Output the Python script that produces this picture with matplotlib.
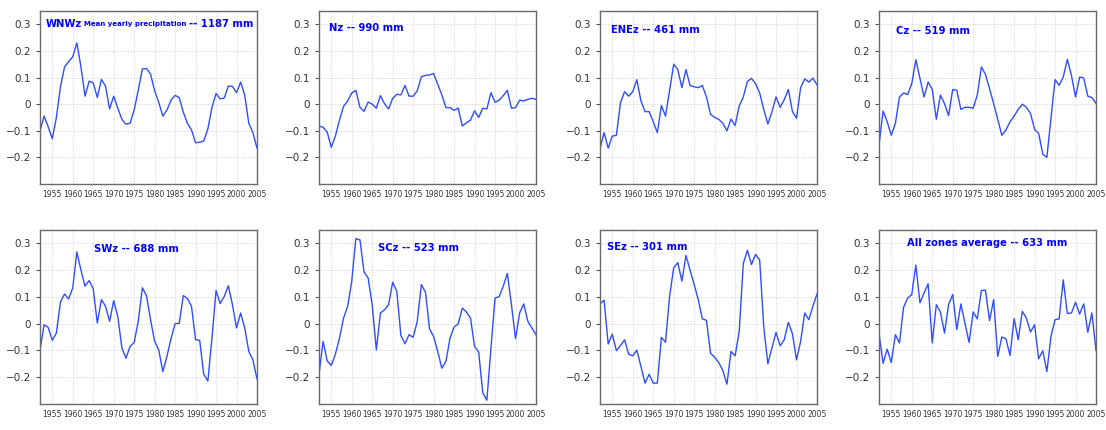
import numpy as np
import matplotlib
matplotlib.use("Agg")
import matplotlib.pyplot as plt

years = np.arange(1952, 2006)

wnwz = [-0.10, -0.045, -0.085, -0.13, -0.05, 0.065, 0.14, 0.16, 0.178, 0.23,
        0.14, 0.03, 0.086, 0.08, 0.025, 0.093, 0.068, -0.018, 0.03, -0.015,
        -0.057, -0.075, -0.072, -0.022, 0.052, 0.132, 0.134, 0.113, 0.05, 0.007,
        -0.045, -0.022, 0.015, 0.033, 0.025, -0.03, -0.072, -0.097, -0.145, -0.143,
        -0.138, -0.093, -0.012, 0.04, 0.02, 0.023, 0.068, 0.067, 0.043, 0.083,
        0.034, -0.072, -0.107, -0.165]
nz = [-0.082, -0.087, -0.105, -0.162, -0.12, -0.06, -0.008, 0.012, 0.042, 0.052,
      -0.012, -0.027, 0.008, 0.0, -0.015, 0.032, 0.002, -0.018, 0.022, 0.037,
      0.035, 0.07, 0.03, 0.03, 0.05, 0.103, 0.108, 0.11, 0.115, 0.075,
      0.035, -0.013, -0.013, -0.023, -0.015, -0.082, -0.07, -0.06, -0.025, -0.05,
      -0.015, -0.018, 0.043, 0.007, 0.015, 0.032, 0.052, -0.015, -0.013, 0.015,
      0.012, 0.018, 0.022, 0.018]
enez = [-0.167, -0.107, -0.165, -0.12, -0.117, 0.005, 0.047, 0.03, 0.047, 0.092,
        0.012, -0.028, -0.028, -0.066, -0.107, -0.005, -0.045, 0.052, 0.15, 0.13,
        0.062, 0.13, 0.07, 0.065, 0.062, 0.07, 0.027, -0.038, -0.05, -0.057,
        -0.072, -0.1, -0.056, -0.08, -0.007, 0.027, 0.085, 0.097, 0.077, 0.042,
        -0.02, -0.075, -0.028, 0.027, -0.012, 0.017, 0.055, -0.028, -0.053, 0.062,
        0.095, 0.083, 0.098, 0.072]
cz = [-0.153, -0.026, -0.066, -0.117, -0.072, 0.027, 0.042, 0.036, 0.077, 0.167,
      0.097, 0.027, 0.083, 0.056, -0.057, 0.034, 0.002, -0.043, 0.055, 0.052,
      -0.02, -0.012, -0.012, -0.015, 0.034, 0.14, 0.112, 0.058, 0.002, -0.057,
      -0.117, -0.097, -0.066, -0.045, -0.02, 0.0, -0.012, -0.035, -0.095, -0.11,
      -0.188, -0.2, -0.053, 0.092, 0.071, 0.102, 0.168, 0.108, 0.027, 0.102,
      0.098, 0.03, 0.025, 0.003]
swz = [-0.098, -0.004, -0.014, -0.062, -0.035, 0.081, 0.111, 0.092, 0.134, 0.268,
       0.2, 0.14, 0.161, 0.131, 0.002, 0.09, 0.065, 0.009, 0.086, 0.027,
       -0.091, -0.129, -0.085, -0.07, 0.009, 0.134, 0.105, 0.015, -0.066, -0.098,
       -0.179, -0.122, -0.056, 0.0, 0.001, 0.105, 0.094, 0.065, -0.06, -0.062,
       -0.189, -0.214, -0.054, 0.124, 0.075, 0.102, 0.142, 0.071, -0.016, 0.04,
       -0.016, -0.104, -0.135, -0.206]
scz = [-0.189, -0.066, -0.139, -0.156, -0.114, -0.054, 0.021, 0.065, 0.159, 0.318,
       0.313, 0.193, 0.171, 0.069, -0.098, 0.04, 0.052, 0.071, 0.155, 0.121,
       -0.044, -0.075, -0.041, -0.051, 0.009, 0.146, 0.118, -0.019, -0.048, -0.104,
       -0.166, -0.141, -0.054, -0.012, -0.001, 0.058, 0.044, 0.021, -0.085, -0.106,
       -0.258, -0.286, -0.091, 0.096, 0.101, 0.14, 0.188, 0.071, -0.056, 0.04,
       0.074, 0.009, -0.016, -0.041]
sez = [0.074, 0.088, -0.076, -0.039, -0.101, -0.082, -0.06, -0.114, -0.12, -0.099,
       -0.16, -0.222, -0.189, -0.222, -0.222, -0.051, -0.069, 0.102, 0.209, 0.228,
       0.159, 0.255, 0.2, 0.146, 0.09, 0.018, 0.0125, -0.11, -0.125, -0.145,
       -0.175, -0.226, -0.104, -0.12, -0.029, 0.225, 0.274, 0.221, 0.259, 0.238,
       -0.0125, -0.15, -0.09, -0.0325, -0.0825, -0.06, 0.005, -0.0375, -0.135, -0.066,
       0.04, 0.015, 0.065, 0.111]
allz = [-0.037, -0.148, -0.095, -0.145, -0.041, -0.072, 0.061, 0.096, 0.109, 0.219,
        0.078, 0.115, 0.149, -0.072, 0.071, 0.044, -0.035, 0.071, 0.109, -0.022,
        0.074, 0.002, -0.07, 0.044, 0.018, 0.124, 0.125, 0.011, 0.09, -0.122,
        -0.05, -0.056, -0.119, 0.019, -0.06, 0.046, 0.021, -0.031, -0.004, -0.131,
        -0.101, -0.179, -0.048, 0.015, 0.018, 0.164, 0.038, 0.04, 0.08, 0.036,
        0.074, -0.032, 0.04, -0.1]

series = [wnwz, nz, enez, cz, swz, scz, sez, allz]
titles = ["WNWz", "Nz -- 990 mm", "ENEz -- 461 mm", "Cz -- 519 mm",
          "SWz -- 688 mm", "SCz -- 523 mm", "SEz -- 301 mm",
          "All zones average -- 633 mm"]
# title anchor (x in axes fraction, y in data units)
title_pos = [(0.026, 0.3), (0.045, 0.288), (0.05, 0.278), (0.08, 0.274),
             (0.25, 0.28), (0.27, 0.281), (0.034, 0.285), (0.127, 0.301)]

yticks = [-0.2, -0.1, 0, 0.1, 0.2, 0.3]
ytick_labels = ["\u22120.2", "\u22120.1", "0", "0.1", "0.2", "0.3"]
xticks = np.arange(1955, 2006, 5)

W, H = 1106, 430
fig = plt.figure(figsize=(W / 100, H / 100), dpi=100)

lefts = [40, 319, 600, 879]
rows = [(11, 184), (230, 404)]
line_color = "#2f4dff"
title_kw = dict(color="blue", fontsize=7.2, fontweight="heavy", va="center")

for i, vals in enumerate(series):
    r, c = divmod(i, 4)
    top, bot = rows[r]
    ax = fig.add_axes([lefts[c] / W, (H - bot) / H, 217 / W, (bot - top) / H])
    ax.plot(years, vals, color=line_color, lw=1.0)
    ax.set_xlim(1952, 2005)
    ax.set_ylim(-0.3, 0.35)
    ax.set_yticks(yticks)
    ax.set_yticklabels(ytick_labels)
    ax.set_xticks(xticks)
    ax.grid(True, color="#d0d0d0", linestyle=":", linewidth=0.7)
    ax.tick_params(axis="y", labelsize=7.5, length=3, color="#555555", labelcolor="#333333")
    ax.tick_params(axis="x", labelsize=5.5, length=0, pad=4, labelcolor="#333333")
    for s in ax.spines.values():
        s.set_color("#6a6a6a")
        s.set_linewidth(1.0)
    tx, ty = title_pos[i]
    trans = ax.get_yaxis_transform()
    if i == 0:
        # first panel carries the mixed-size caption
        t = ax.text(tx, ty, "WNWz", transform=trans, **title_kw)
        fig.canvas.draw()
        bb = t.get_window_extent().transformed(ax.transAxes.inverted())
        t2 = ax.text(bb.x1 + 0.012, ty, "Mean yearly precipitation", transform=trans,
                     color="blue", fontsize=5.0, fontweight="heavy", va="center")
        fig.canvas.draw()
        bb2 = t2.get_window_extent().transformed(ax.transAxes.inverted())
        ax.text(bb2.x1 + 0.012, ty, "-- 1187 mm", transform=trans, **title_kw)
    else:
        ax.text(tx, ty, titles[i], transform=trans, **title_kw)

fig.savefig("out.png", dpi=100)
